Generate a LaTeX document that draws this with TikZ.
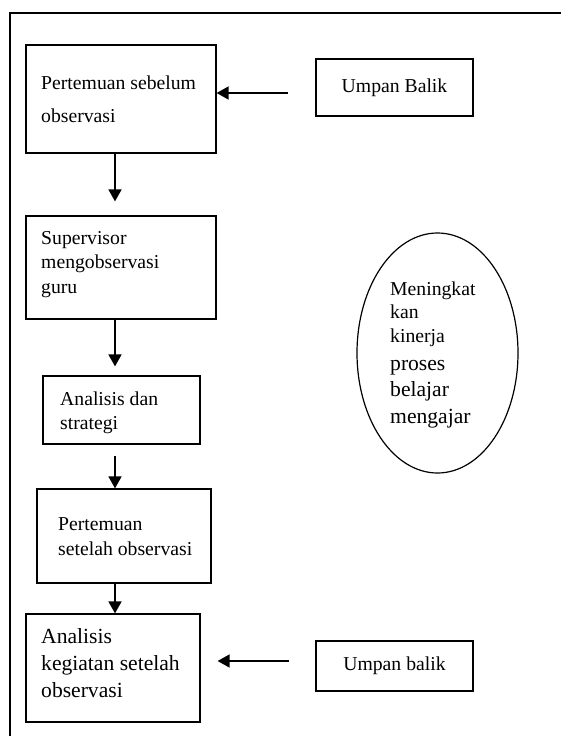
\documentclass[tikz,border=0pt]{standalone}
\usepackage{fontspec}
\setmainfont{Liberation Serif}
\usetikzlibrary{arrows.meta,shapes.geometric}
\begin{document}
\begin{tikzpicture}[x=1pt,y=-1pt,
  box/.style={draw, line width=1.2pt, rectangle, inner sep=0pt},
  txt/.style={inner sep=0pt, anchor=base west, font=\fontsize{19.7}{24}\selectfont},
  bigtxt/.style={inner sep=0pt, anchor=base west, font=\fontsize{21.6}{26}\selectfont},
  arr/.style={line width=1.6pt, -{Triangle[length=12pt,width=13pt]}}]
\useasboundingbox (0,0) rectangle (561,736);
\clip (0,0) rectangle (561,736);
% outer frame
\draw[line width=1.4pt] (10,13) rectangle (600,780);
% boxes
\node[box, minimum width=190pt, minimum height=108pt] (b1) at (121,99) {};
\node[box, minimum width=157pt, minimum height=57pt] (u1) at (394.5,87.5) {};
\node[box, minimum width=190pt, minimum height=103pt] (b2) at (121,267.5) {};
\node[box, minimum width=157pt, minimum height=68pt] (b3) at (121.5,410) {};
\node[box, minimum width=174pt, minimum height=94pt] (b4) at (124,536) {};
\node[box, minimum width=174pt, minimum height=108pt] (b5) at (113,668) {};
\node[box, minimum width=157pt, minimum height=50pt] (u2) at (394.5,666) {};
\node[draw, line width=1.2pt, ellipse, minimum width=161pt, minimum height=240pt, inner sep=0pt] (el) at (437.5,353) {};
% texts
\node[txt] (t1a) at (41,89) {Pertemuan sebelum};
\node[txt] (t1b) at (41,122) {observasi};
\node[txt, anchor=center] (tu1) at (u1.center) {Umpan Balik};
\node[txt] (t2a) at (41,244) {Supervisor};
\node[txt] (t2b) at (41,268) {mengobservasi};
\node[txt] (t2c) at (41,293) {guru};
\node[txt] (t3a) at (60,405) {Analisis dan};
\node[txt] (t3b) at (60,429) {strategi};
\node[txt] (t4a) at (58,530) {Pertemuan};
\node[txt] (t4b) at (58,555) {setelah observasi};
\node[bigtxt] (t5a) at (41,643) {Analisis};
\node[bigtxt] (t5b) at (41,670) {kegiatan setelah};
\node[bigtxt] (t5c) at (41,697) {observasi};
\node[txt, anchor=center] (tu2) at (u2.center) {Umpan balik};
\node[txt] (e1) at (390,295) {Meningkat};
\node[txt] (e2) at (390,318) {kan};
\node[txt] (e3) at (390,342) {kinerja};
\node[bigtxt] (e4) at (390,370) {proses};
\node[bigtxt] (e5) at (390,396) {belajar};
\node[bigtxt] (e6) at (390,423) {mengajar};
% connectors
\coordinate (ax) at (115,0);
\coordinate (ay1) at (0,93);
\coordinate (ay2) at (0,661);
\draw[arr, shorten >=14pt] (b1.south -| ax) -- (b2.north -| ax);
\draw[arr, shorten >=9pt] (b2.south -| ax) -- (b3.north -| ax);
\draw[arr, shorten <=11pt] (b3.south -| ax) -- (b4.north -| ax);
\draw[arr] (b4.south -| ax) -- (b5.north -| ax);
\draw[arr, shorten <=27pt] (u1.west |- ay1) -- (b1.east |- ay1);
\draw[arr, shorten <=26pt, shorten >=17pt] (u2.west |- ay2) -- (b5.east |- ay2);
\end{tikzpicture}
\end{document}
